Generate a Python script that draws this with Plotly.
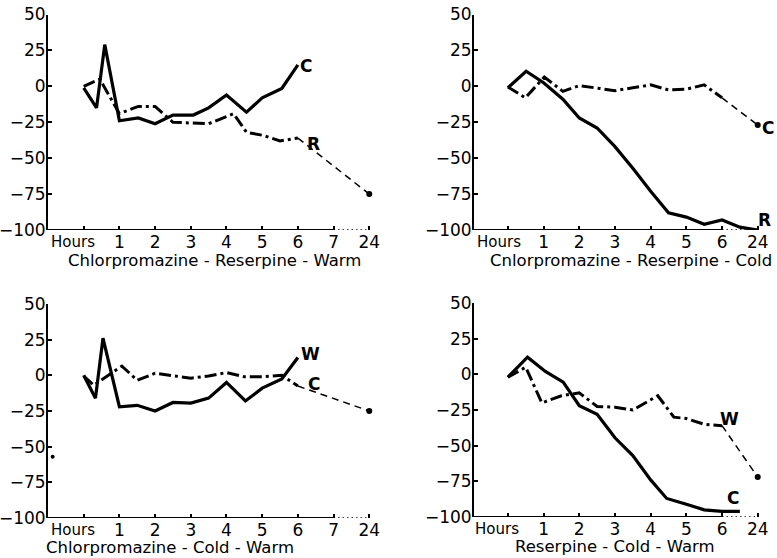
import plotly.graph_objects as go

# ---------------- data (hours; position 7/8 on the axis stands for 24 h) ----------------
hour_ticks_ab = [0, 1, 2, 3, 4, 5, 6, 7, 8]
hour_text_ab = ["", "1", "2", "3", "4", "5", "6", "7", "24"]
hour_ticks_bd = [0, 1, 2, 3, 4, 5, 6, 7]
hour_text_bd = ["", "1", "2", "3", "4", "5", "6", "24"]
y_ticks = [50, 25, 0, -25, -50, -75, -100]

titles = ["Chlorpromazine - Reserpine - Warm", "Cnlorpromazine - Reserpine - Cold",
          "Chlorpromazine - Cold - Warm", "Reserpine - Cold - Warm"]

# Panel 1: Chlorpromazine - Reserpine - Warm
p1_c_x = [0, 0.36, 0.59, 1, 1.53, 2, 2.5, 3.07, 3.5, 4, 4.56, 5, 5.55, 6]
p1_c_y = [-1, -15, 29, -24, -22, -26, -20, -20, -15, -6, -18, -8, -1.5, 15]
p1_r_x = [0, 0.45, 1, 1.53, 2, 2.5, 3, 3.5, 4.2, 4.56, 5, 5.5, 6]
p1_r_y = [0, 5, -19, -14, -14, -25, -25.5, -26, -19, -32, -34, -38, -36]
p1_r_24_x = [6, 8]
p1_r_24_y = [-36, -75]

# Panel 2: Chlorpromazine - Reserpine - Cold
p2_r_x = [0, 0.51, 1, 1.54, 2, 2.5, 3, 3.5, 4, 4.5, 5, 5.5, 6, 6.5, 7]
p2_r_y = [-1, 10.5, 2.5, -9, -22, -29, -42, -57, -73, -88, -91, -96, -93, -98, -100]
p2_c_x = [0, 0.49, 1.02, 1.54, 2, 2.5, 3, 3.5, 4, 4.5, 5, 5.5, 6]
p2_c_y = [-0.5, -8, 6.5, -3.5, 0.5, -1, -3, -1, 1, -2.5, -2, 1, -8]
p2_c_24_x = [6, 7]
p2_c_24_y = [-8, -27]

# Panel 3: Chlorpromazine - Cold - Warm
p3_w_x = [0, 0.33, 0.54, 1, 1.5, 2, 2.5, 3, 3.5, 4, 4.53, 5, 5.55, 6]
p3_w_y = [0, -16, 26, -22, -21, -25, -19, -19.5, -16, -5, -18, -9, -2.5, 12.5]
p3_c_x = [0, 0.28, 1.07, 1.5, 2, 2.5, 3, 3.5, 4, 4.5, 5, 5.55, 6]
p3_c_y = [-0.5, -7, 6.5, -3.5, 1.5, -0.5, -2, -0.5, 2, -1, -1, 0, -7.5]
p3_c_24_x = [6, 8]
p3_c_24_y = [-7.5, -25]
p3_speck_x = [-0.87]
p3_speck_y = [-57]

# Panel 4: Reserpine - Cold - Warm
p4_c_x = [0, 0.55, 1.05, 1.55, 2, 2.5, 3, 3.5, 4, 4.45, 5, 5.5, 6, 6.5]
p4_c_y = [-2, 12, 2, -5.5, -22, -28, -44.5, -57, -74, -87, -91, -95, -96, -96]
p4_w_x = [0, 0.5, 0.95, 1.5, 2, 2.5, 3, 3.5, 4.2, 4.65, 5, 5.5, 6]
p4_w_y = [-2, 5, -20, -15, -13, -22.5, -23, -25, -15, -30, -31, -35, -36]
p4_w_24_x = [6, 7]
p4_w_24_y = [-36, -72]

# curve labels: (text, x, y)
labels = [
    [("C", 6.22, 14), ("R", 6.43, -40)],
    [("C", 7.29, -29), ("R", 7.18, -93)],
    [("W", 6.36, 15), ("C", 6.45, -6)],
    [("W", 6.22, -31.5), ("C", 6.32, -86.5)],
]

# ---------------- figure ----------------
W, H = 777, 558
FONT = "DejaVu Sans"
BLACK = "#000000"
SOLID = dict(color=BLACK, width=3.2)
DASHDOT = dict(color=BLACK, width=3, dash="12px,4px,3px,4px")
THIN = dict(color=BLACK, width=1.5, dash="7px,5px")

fig = go.Figure()

def add_line(ax, x, y, line, mode="lines", marker=None):
    fig.add_trace(go.Scatter(x=x, y=y, mode=mode, line=line, marker=marker,
                             xaxis="x" + ax, yaxis="y" + ax, showlegend=False,
                             hoverinfo="skip"))

axes = ["", "2", "3", "4"]
xranges = [[-1, 8.6], [-0.95, 7.54], [-1, 8.6], [-0.95, 7.54]]
solid_end = [7, 6, 7, 6]
dot_end = [8, 7, 8, 7]

series = [
    [(p1_c_x, p1_c_y, SOLID), (p1_r_x, p1_r_y, DASHDOT), (p1_r_24_x, p1_r_24_y, THIN)],
    [(p2_r_x, p2_r_y, SOLID), (p2_c_x, p2_c_y, DASHDOT), (p2_c_24_x, p2_c_24_y, THIN)],
    [(p3_w_x, p3_w_y, SOLID), (p3_c_x, p3_c_y, DASHDOT), (p3_c_24_x, p3_c_24_y, THIN)],
    [(p4_c_x, p4_c_y, SOLID), (p4_w_x, p4_w_y, DASHDOT), (p4_w_24_x, p4_w_24_y, THIN)],
]
end_points = [(p1_r_24_x[-1:], p1_r_24_y[-1:]), (p2_c_24_x[-1:], p2_c_24_y[-1:]),
              (p3_c_24_x[-1:], p3_c_24_y[-1:]), (p4_w_24_x[-1:], p4_w_24_y[-1:])]

for i, ax in enumerate(axes):
    x0 = xranges[i][0]
    # base line of the hour axis: solid, then dotted up to the 24 h position
    add_line(ax, [x0, solid_end[i]], [-100, -100], dict(color=BLACK, width=1.8))
    add_line(ax, [solid_end[i], dot_end[i]], [-100, -100],
             dict(color=BLACK, width=1.5, dash="1.5px,3px"))
    for (x, y, ln) in series[i]:
        add_line(ax, x, y, ln)
    ex, ey = end_points[i]
    add_line(ax, ex, ey, None, mode="markers", marker=dict(color=BLACK, size=6))

add_line("3", p3_speck_x, p3_speck_y, None, mode="markers", marker=dict(color=BLACK, size=4))

# domains in paper coordinates (pixel-derived)
xdom = [[48 / W, 390.7 / W], [474 / W, 1.0], [48 / W, 390.7 / W], [474 / W, 1.0]]
ydom = [[1 - 230 / H, 1 - 14.5 / H], [1 - 230 / H, 1 - 14.5 / H],
        [1 - 518 / H, 1 - 304 / H], [1 - 517 / H, 1 - 303 / H]]

layout = dict(width=W, height=H, margin=dict(l=0, r=0, t=0, b=0, autoexpand=False),
              paper_bgcolor="white", plot_bgcolor="white", showlegend=False,
              font=dict(family=FONT, color=BLACK))

annotations = []
title_x = [3.65, 3.45, 2.42, 3.0]
title_shift = [-30, -30, -29, -29.5]
hours_x = [0.36, 0.42, 0.36, 0.36]
for i, ax in enumerate(axes):
    key = "" if ax == "" else ax
    tv = hour_ticks_ab if i in (0, 2) else hour_ticks_bd
    tt = hour_text_ab if i in (0, 2) else hour_text_bd
    layout["xaxis" + key] = dict(domain=xdom[i], range=xranges[i], anchor="y" + key,
                                 automargin=False,
                                 showgrid=False, zeroline=False, showline=False,
                                 ticks="inside", ticklen=4, tickwidth=1.5, tickcolor=BLACK,
                                 tickvals=tv, ticktext=tt,
                                 tickfont=dict(family=FONT, size=17, color=BLACK),
                                 fixedrange=True)
    layout["yaxis" + key] = dict(domain=ydom[i], range=[-100, 50], anchor="x" + key,
                                 automargin=False,
                                 showgrid=False, zeroline=False, showline=True,
                                 linecolor=BLACK, linewidth=2,
                                 ticks="inside", ticklen=4, tickwidth=1.5, tickcolor=BLACK,
                                 tickvals=y_ticks, ticklabelstandoff=-3,
                                 tickfont=dict(family=FONT, size=17, color=BLACK),
                                 fixedrange=True)
    xr = "x" + key
    yr = "y" + key
    annotations.append(dict(text=titles[i], x=title_x[i], y=0, xref=xr, yref=yr + " domain",
                            xanchor="center", yanchor="middle", yshift=title_shift[i],
                            showarrow=False, font=dict(family=FONT, size=16.5, color=BLACK)))
    annotations.append(dict(text="Hours", x=hours_x[i], y=0, xref=xr, yref=yr + " domain",
                            xanchor="right", yanchor="middle", yshift=-12,
                            showarrow=False, font=dict(family=FONT, size=15, color=BLACK)))
    for (t, lx, ly) in labels[i]:
        annotations.append(dict(text="<b>" + t + "</b>", x=lx, y=ly, xref=xr, yref=yr,
                                showarrow=False,
                                font=dict(family=FONT, size=17, color=BLACK)))

layout["annotations"] = annotations
fig.update_layout(**layout)
fig.write_html("out.html", config={"displayModeBar": False},
               post_script="document.body.style.margin='0';")
